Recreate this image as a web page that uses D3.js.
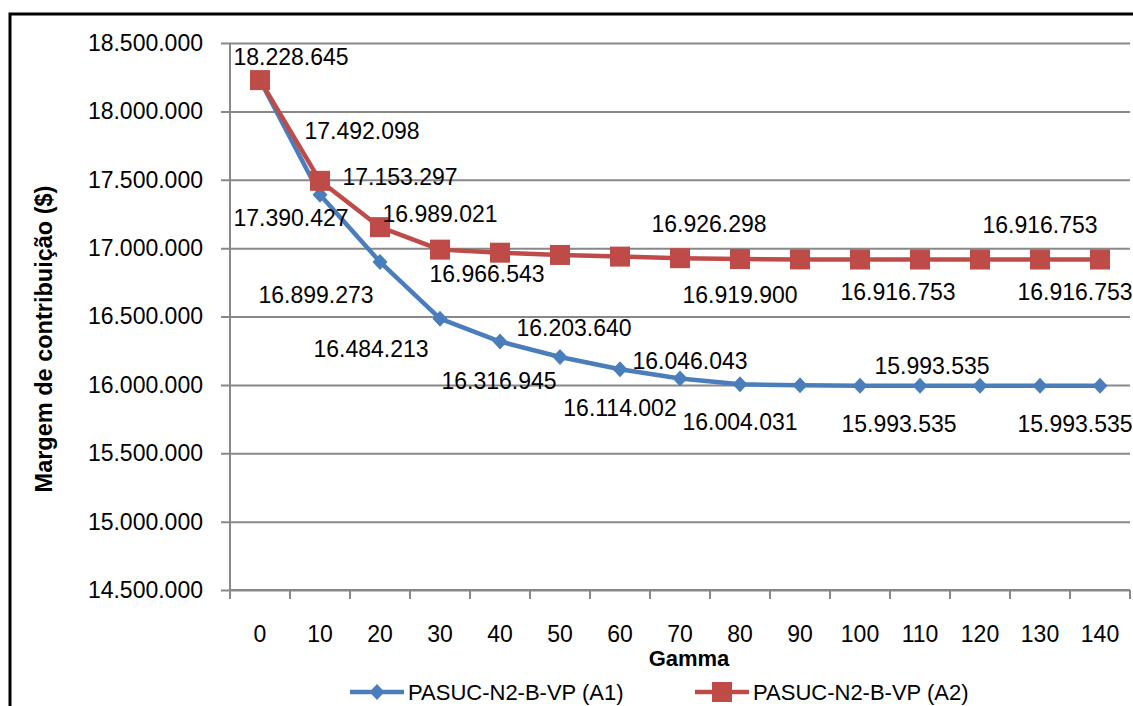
<!DOCTYPE html>
<html>
<head>
<meta charset="utf-8">
<script src="https://cdn.jsdelivr.net/npm/d3@7"></script>
<style>
  body { margin: 0; background: #fff; }
  svg { display: block; font-family: "Liberation Sans", Arial, sans-serif; }
</style>
</head>
<body>
<script>
// chart values
var gamma = [0, 10, 20, 30, 40, 50, 60, 70, 80, 90, 100, 110, 120, 130, 140];
var seriesA1 = [18228645, 17390427, 16899273, 16484213, 16316945, 16203640,
    16114002, 16046043, 16004031, 15997000, 15993535, 15993535, 15993535,
    15993535, 15993535];
var seriesA2 = [18228645, 17492098, 17153297, 16989021, 16966543, 16950000,
    16938000, 16926298, 16919900, 16917500, 16916753, 16916753, 16916753,
    16916753, 16916753];
var seriesNames = ["PASUC-N2-B-VP (A1)", "PASUC-N2-B-VP (A2)"];
var yTicks = [14500000, 15000000, 15500000, 16000000, 16500000, 17000000,
    17500000, 18000000, 18500000];

// which points carry a value label, and where it was dragged to (px)
var labelsA1 = [
    {i: 1, dx: -29, dy: 23}, {i: 2, dx: -64, dy: 33}, {i: 3, dx: -69, dy: 30},
    {i: 4, dx: -1, dy: 39}, {i: 5, dx: 14, dy: -29}, {i: 6, dx: 0, dy: 39},
    {i: 7, dx: 10, dy: -18}, {i: 8, dx: 0, dy: 38}, {i: 10, dx: 39, dy: 38},
    {i: 11, dx: 12, dy: -20}, {i: 14, dx: -25, dy: 38}
];
var labelsA2 = [
    {i: 0, dx: 31, dy: -23}, {i: 1, dx: 42, dy: -50}, {i: 2, dx: 20, dy: -50},
    {i: 3, dx: 0, dy: -36}, {i: 4, dx: -13, dy: 21}, {i: 7, dx: 29, dy: -34},
    {i: 8, dx: 0, dy: 36}, {i: 10, dx: 38, dy: 32}, {i: 13, dx: 0, dy: -35},
    {i: 14, dx: -25, dy: 32}
];

var blue = "#4A7EBB", red = "#BE4B48", grid = "#888888";

var ptBR = d3.formatLocale({decimal: ",", thousands: ".", grouping: [3],
    currency: ["$", ""]});
var fmt = ptBR.format(",d");

var W = 1133, H = 706;
var plot = {left: 230, right: 1130, top: 43, bottom: 590};

var svg = d3.select("body").append("svg")
    .attr("width", W)
    .attr("height", H);

// outer chart frame (runs off the right and bottom of the picture)
svg.append("rect")
    .attr("x", 10).attr("y", 14)
    .attr("width", 1140).attr("height", 720)
    .style("fill", "none")
    .style("stroke", "#000")
    .style("stroke-width", "3px");

var x = d3.scaleBand().domain(gamma).range([plot.left, plot.right]);
var y = d3.scaleLinear().domain([14500000, 18500000])
    .range([plot.bottom, plot.top]);

// horizontal gridlines + y ticks
var yAxis = d3.axisLeft(y).tickValues(yTicks).tickFormat(fmt)
    .tickSize(-(plot.right - plot.left)).tickPadding(18);
var gy = svg.append("g")
    .attr("transform", "translate(" + plot.left + ",0)")
    .call(yAxis);
gy.select(".domain").remove();
gy.selectAll(".tick line")
    .attr("x1", -9)
    .style("stroke", grid)
    .style("stroke-width", "2px");
gy.selectAll(".tick text")
    .attr("x", -27)
    .style("font-size", "23px")
    .style("font-family", "Liberation Sans, Arial, sans-serif")
    .style("fill", "#000");

// left axis line
svg.append("line")
    .attr("x1", plot.left).attr("x2", plot.left)
    .attr("y1", plot.top).attr("y2", plot.bottom)
    .style("stroke", grid).style("stroke-width", "2px");

// x axis with ticks between categories
var xAxis = d3.axisBottom(x).tickSize(0).tickPadding(36);
var gx = svg.append("g")
    .attr("transform", "translate(0," + plot.bottom + ")")
    .call(xAxis);
gx.select(".domain").remove();
gx.selectAll(".tick text")
    .style("font-size", "23px")
    .style("font-family", "Liberation Sans, Arial, sans-serif")
    .style("fill", "#000");

svg.append("line")
    .attr("x1", plot.left).attr("x2", plot.right)
    .attr("y1", plot.bottom).attr("y2", plot.bottom)
    .style("stroke", grid).style("stroke-width", "2px");

var edges = gamma.map(function(g){ return x(g); }).concat([plot.right]);
svg.selectAll(".xedge")
    .data(edges)
    .enter()
    .append("line")
    .attr("class", "xedge")
    .attr("x1", function(d){ return d; })
    .attr("x2", function(d){ return d; })
    .attr("y1", plot.bottom)
    .attr("y2", plot.bottom + 9)
    .style("stroke", grid)
    .style("stroke-width", "2px");

// axis titles
svg.append("text")
    .text("Gamma")
    .attr("x", 689)
    .attr("y", 666)
    .attr("text-anchor", "middle")
    .style("font-size", "22px")
    .style("font-weight", "bold");

svg.append("text")
    .text("Margem de contribuição ($)")
    .attr("transform", "translate(52,339) rotate(-90)")
    .attr("text-anchor", "middle")
    .style("font-size", "23.5px")
    .style("font-weight", "bold");

var cx = function(d, i){ return x(gamma[i]) + x.bandwidth() / 2; };

var line = d3.line()
    .x(function(d, i){ return cx(d, i); })
    .y(function(d){ return y(d); });

function drawSeries(values, color, marker){
    svg.append("path")
        .datum(values)
        .attr("d", line)
        .style("fill", "none")
        .style("stroke", color)
        .style("stroke-width", "4.5px")
        .style("stroke-linejoin", "round");

    svg.append("g").selectAll("path")
        .data(values)
        .enter()
        .append("path")
        .attr("d", marker)
        .attr("transform", function(d, i){
            return "translate(" + cx(d, i) + "," + y(d) + ")";
        })
        .style("fill", color);
}

var diamond = "M0,-8L7.5,0L0,8L-7.5,0Z";
var square = "M-10,-10H10V10H-10Z";

drawSeries(seriesA1, blue, diamond);
drawSeries(seriesA2, red, square);

function drawLabels(values, spots){
    svg.append("g").selectAll("text")
        .data(spots)
        .enter()
        .append("text")
        .text(function(s){ return fmt(values[s.i]); })
        .attr("x", function(s){ return cx(values[s.i], s.i) + s.dx; })
        .attr("y", function(s){ return y(values[s.i]) + s.dy; })
        .attr("text-anchor", "middle")
        .attr("dominant-baseline", "central")
        .style("font-size", "23px")
        .style("fill", "#000");
}

drawLabels(seriesA1, labelsA1);
drawLabels(seriesA2, labelsA2);

// legend
var legend = [
    {name: seriesNames[0], color: blue, marker: diamond, x: 350},
    {name: seriesNames[1], color: red, marker: square, x: 695}
];
var lg = svg.append("g").selectAll("g")
    .data(legend)
    .enter()
    .append("g")
    .attr("transform", function(d){ return "translate(" + d.x + ",692)"; });
lg.append("line")
    .attr("x1", 0).attr("x2", 54)
    .attr("y1", 0).attr("y2", 0)
    .style("stroke", function(d){ return d.color; })
    .style("stroke-width", "4.5px");
lg.append("path")
    .attr("d", function(d){ return d.marker; })
    .attr("transform", "translate(27,0)")
    .style("fill", function(d){ return d.color; });
lg.append("text")
    .text(function(d){ return d.name; })
    .attr("x", 58)
    .attr("y", 0)
    .attr("dominant-baseline", "central")
    .style("font-size", "22px");
</script>
</body>
</html>
